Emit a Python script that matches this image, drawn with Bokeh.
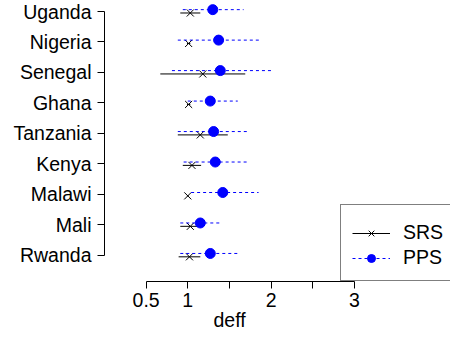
from bokeh.plotting import figure
from bokeh.models import Range1d, FixedTicker, Legend, LegendItem, ColumnDataSource, Title
from bokeh.embed import file_html
from bokeh.resources import INLINE

countries = ["Uganda", "Nigeria", "Senegal", "Ghana", "Tanzania", "Kenya", "Malawi", "Mali", "Rwanda"]
srs_est = [1.03, 1.01, 1.18, 1.01, 1.15, 1.05, 1.00, 1.03, 1.02]
srs_lo = [0.91, 0.99, 0.67, 0.99, 0.88, 0.94, 0.99, 0.91, 0.89]
srs_hi = [1.15, 1.03, 1.69, 1.03, 1.48, 1.16, 1.01, 1.15, 1.15]
pps_est = [1.30, 1.37, 1.39, 1.27, 1.31, 1.33, 1.42, 1.15, 1.27]
pps_lo = [0.94, 0.88, 0.81, 1.00, 0.88, 0.95, 1.04, 0.91, 0.91]
pps_hi = [1.67, 1.87, 2.00, 1.60, 1.73, 1.72, 1.85, 1.41, 1.63]
x_ticks = [0.5, 1, 1.5, 2, 2.5, 3]
x_tick_labels = ["0.5", "1", "", "2", "", "3"]
x_label = "deff"

n = len(countries)
ypos = [n - i for i in range(n)]
srs_y = [y - 0.05 for y in ypos]
pps_y = [y + 0.06 for y in ypos]

srs_src = ColumnDataSource(dict(y=srs_y, est=srs_est, lo=srs_lo, hi=srs_hi))
pps_src = ColumnDataSource(dict(y=pps_y, est=pps_est, lo=pps_lo, hi=pps_hi))

FONT = "Liberation Sans"
FS = "19.5px"

p = figure(width=450, height=339, output_backend="svg", toolbar_location=None,
           x_range=Range1d(0, 4.154), y_range=Range1d(0.14, 9.36),
           min_border_left=104, min_border_right=0, min_border_top=0, min_border_bottom=58)
p.outline_line_color = None
p.xgrid.visible = False
p.ygrid.visible = False
p.background_fill_color = "white"
p.border_fill_color = "white"

srs_seg = p.segment(x0="lo", x1="hi", y0="y", y1="y", source=srs_src, line_color="black", line_width=1)
srs_pts = p.scatter(x="est", y="y", source=srs_src, marker="x", size=10, line_color="black", line_width=1)
pps_seg = p.segment(x0="lo", x1="hi", y0="y", y1="y", source=pps_src, line_color="blue", line_width=1,
                    line_dash="3 3")
pps_pts = p.scatter(x="est", y="y", source=pps_src, marker="circle", size=10, fill_color="blue",
                    line_color="blue")

# axes
xa = p.xaxis[0]
xa.ticker = FixedTicker(ticks=x_ticks)
xa.major_label_overrides = {t: l for t, l in zip(x_ticks, x_tick_labels)}
xa.bounds = (x_ticks[0], x_ticks[-1])
ya = p.yaxis[0]
ya.ticker = FixedTicker(ticks=ypos)
ya.major_label_overrides = {y: c for y, c in zip(ypos, countries)}
ya.bounds = (1, n)
for ax in (xa, ya):
    ax.axis_line_color = "black"
    ax.major_tick_line_color = "black"
    ax.minor_tick_line_color = None
    ax.major_tick_out = 7
    ax.major_tick_in = 0
    ax.major_label_text_font = FONT
    ax.major_label_text_font_size = FS
    ax.major_label_text_color = "black"
xa.major_label_standoff = 4
ya.major_label_standoff = 6

# x-axis title, centred under the 0-3 region as in the reference
xt = Title(text=x_label, align="left", offset=109, standoff=-6,
           text_font=FONT, text_font_size=FS, text_font_style="normal", text_color="black")
p.add_layout(xt, "below")

legend = Legend(items=[LegendItem(label="SRS", renderers=[srs_seg, srs_pts]),
                       LegendItem(label="PPS", renderers=[pps_seg, pps_pts])],
                location=(236, 0))
legend.border_line_color = "black"
legend.border_line_width = 1
legend.background_fill_color = "white"
legend.background_fill_alpha = 1
legend.padding = 11
legend.spacing = 2
legend.margin = 0
legend.glyph_width = 38
legend.glyph_height = 20
legend.label_height = 20
legend.label_standoff = 13
legend.label_text_font = FONT
legend.label_text_font_size = FS
legend.label_text_color = "black"
legend.title = " "
legend.title_text_font_size = "4px"
legend.title_standoff = 0
p.add_layout(legend)

open("out.html", "w").write(file_html(p, INLINE))
